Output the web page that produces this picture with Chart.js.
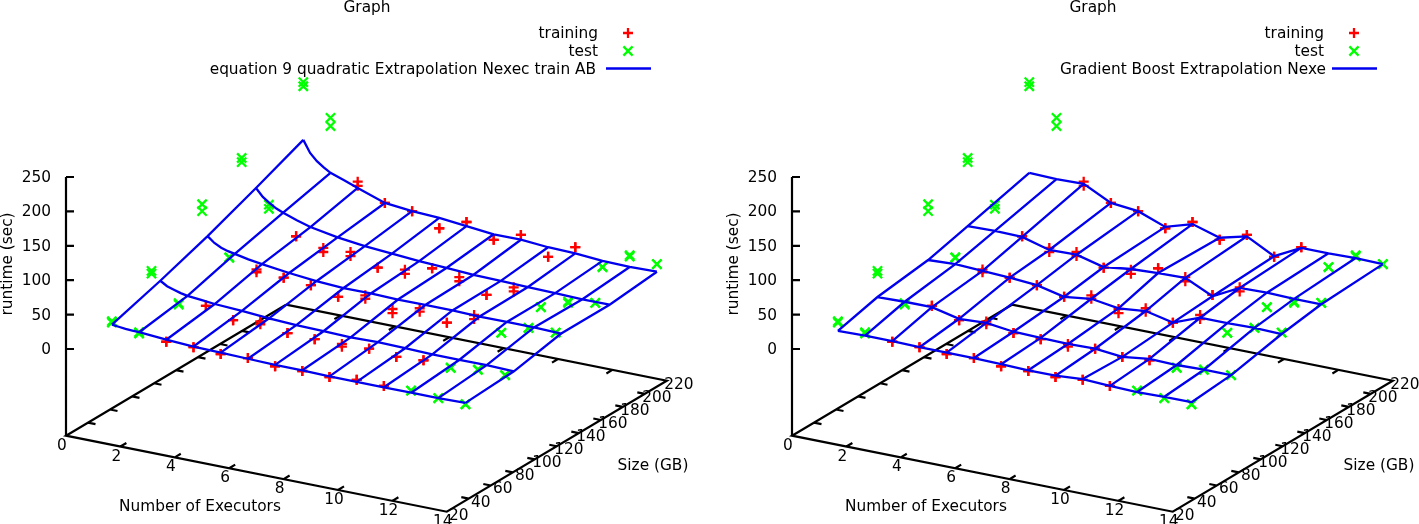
<!DOCTYPE html>
<html>
<head>
<meta charset="utf-8">
<title>Graph</title>
<style>
  html, body { margin: 0; padding: 0; background: #fff; overflow: hidden; }
  canvas { position: absolute; top: 0; }
</style>
<script src="https://cdn.jsdelivr.net/npm/chart.js@4/dist/chart.umd.min.js"></script>
</head>
<body>
<canvas id="left" width="726" height="524" style="left:0"></canvas>
<canvas id="right" width="693" height="524" style="left:726px"></canvas>
<script>
// measured configurations
const executors = [1, 2, 3, 4, 5, 6, 7, 8, 9, 10, 11, 12, 13, 14];
const sizes = [37, 73, 119, 155, 211];
const trainExecutors = [3, 4, 5, 6, 7, 8, 9, 10, 11];
const testExecutors = [1, 2, 12, 13, 14];

// runtime (sec), one row per size, two runs per configuration
const runtimeRun1 = [
  [32, 24, 18, 18, 16, 18, 14, 15, 14, 18, 17, 18, 15, 14],
  [71, 32, 36, 23, 29, 20, 19, 20, 21, 17, 20, 17, 22, 22],
  [124, 55, 45, 41, 38, 29, 39, 27, 36, 23, 42, 24, 39, 40],
  [157, 97, 59, 50, 52, 37, 42, 52, 47, 29, 48, 27, 43, 49],
  [214, 170, 85, 62, 58, 41, 58, 40, 55, 31, 53, 32, 57, 52]
];
const runtimeRun2 = [
  [30, 22, 18, 18, 16, 18, 14, 15, 14, 18, 17, 18, 15, 14],
  [67, 30, 36, 23, 25, 20, 19, 16, 21, 17, 20, 17, 22, 22],
  [114, 54, 41, 41, 38, 29, 34, 21, 31, 23, 36, 24, 39, 40],
  [151, 91, 59, 44, 46, 37, 36, 52, 41, 29, 42, 27, 41, 49],
  [208, 158, 79, 62, 58, 41, 58, 40, 55, 31, 53, 32, 55, 52]
];

// fitted surfaces, the quadratic one read a bit finer where it bends
const quadExecutors = [1, 1.25, 1.5, 1.75, 2, 2.5, 3, 4, 5, 6, 7, 8, 9, 10, 11, 12, 13, 14];
const quadSizes = [37, 81, 124, 168, 211];
const quadSurface = [
  [27, 26, 25, 24.5, 24, 22.5, 21, 19, 18, 17, 16, 16, 15, 15, 15, 15, 15, 16],
  [49, 43, 40, 37, 35, 33, 31, 29, 26, 24, 23, 22, 23, 22, 21, 21, 21, 20],
  [73, 65, 60, 57, 55, 51, 48, 43, 39, 37, 37, 36, 36, 36, 35, 35, 35, 34],
  [101, 90, 83, 77, 73, 66, 60, 53, 48, 45, 42, 40, 38, 37, 36, 35, 34, 34],
  [130, 113, 103, 96, 90, 83, 76, 62, 58, 56, 52, 48, 48, 45, 44, 41, 40, 41]
];
const boostSizes = sizes;
const boostSurface = [
  [18, 19, 19, 18, 18, 18, 17, 16, 16, 19, 17, 16, 17, 17],
  [33, 34, 34, 25, 27, 22, 21, 20, 21, 17, 22, 21, 22, 22],
  [43, 45, 43, 41, 38, 29, 34, 28, 32, 23, 38, 38, 39, 38],
  [58, 59, 58, 47, 48, 38, 43, 45, 46, 27, 47, 48, 47, 47],
  [82, 81, 82, 62, 58, 43, 55, 43, 53, 32, 52, 52, 53, 52]
];

// axis ticks
const executorTicks = [0, 2, 4, 6, 8, 10, 12, 14];
const sizeTicks = [20, 40, 60, 80, 100, 120, 140, 160, 180, 200, 220];
const runtimeTicks = [0, 50, 100, 150, 200, 250];

const FONT = '15.35px "DejaVu Sans"';

// gnuplot style view: data space -> panel pixels
function project(e, s, z) {
  return {
    x: 66 + e * 27.2 + (s - 20) * 1.1,
    y: 349 + e * 5.43 - (s - 20) * 0.655 - z * 0.688
  };
}

function markers(execs, rows) {
  const pts = [];
  rows.forEach((row, r) => {
    execs.forEach(e => pts.push(project(e, sizes[r], row[executors.indexOf(e)])));
  });
  return pts;
}

// polyline list -> one dataset with gaps between the lines
function withGaps(lines) {
  const pts = [];
  lines.forEach(line => { pts.push(...line); pts.push({ x: null, y: null }); });
  return pts;
}

function surfaceLines(rowExecs, rowSizes, surface) {
  const lines = surface.map((row, r) => row.map((z, i) => project(rowExecs[i], rowSizes[r], z)));
  executors.forEach(e => {
    const i = rowExecs.indexOf(e);
    lines.push(surface.map((row, r) => project(e, rowSizes[r], row[i])));
  });
  return lines;
}

function axisLines() {
  const zLow = -126;
  const a = project(0, 20, zLow), b = project(14, 20, zLow);
  const c = project(14, 220, zLow), d = project(0, 220, zLow);
  const lines = [[d, a, b, c, d], [a, project(0, 20, 250)]];
  const seg = (p, dx, dy) => lines.push([p, { x: p.x + dx, y: p.y + dy }]);
  executorTicks.slice(1, -1).forEach(e => {
    seg(project(e, 20, zLow), 6, -3.6);
    seg(project(e, 220, zLow), -6, 3.6);
  });
  sizeTicks.slice(1, -1).forEach(s => {
    seg(project(0, s, zLow), 7.5, 1.5);
    seg(project(14, s, zLow), -7.5, -1.5);
  });
  runtimeTicks.forEach(z => seg(project(0, 20, z), 8, 0));
  return lines;
}

const textPlugin = {
  id: 'gnuplotText',
  afterDraw(chart, args, opts) {
    const ctx = chart.ctx;
    const sx = chart.scales.x, sy = chart.scales.y;
    const put = (str, x, y, align) => {
      ctx.textAlign = align || 'center';
      ctx.fillText(str, sx.getPixelForValue(x), sy.getPixelForValue(y) + 1);
    };
    ctx.save();
    ctx.font = FONT;
    ctx.fillStyle = '#000';
    ctx.textBaseline = 'middle';
    put('Graph', 367, 7);
    put('training', 598, 33, 'right');
    put('test', 598, 51, 'right');
    put(opts.fitName, opts.fitRight, 69, 'right');
    put('Number of Executors', 200, 506);
    put('Size (GB)', 653, 465);
    executorTicks.forEach(e => {
      const p = project(e, 20, -126);
      put(String(e), p.x - 4, p.y + 9);
    });
    sizeTicks.forEach(s => {
      const p = project(14, s, -126);
      put(String(s), p.x + 12, p.y + 3);
    });
    runtimeTicks.forEach(z => put(String(z), 51, project(0, 20, z).y, 'right'));
    ctx.save();
    ctx.translate(sx.getPixelForValue(8), sy.getPixelForValue(264));
    ctx.rotate(-Math.PI / 2);
    ctx.textAlign = 'center';
    ctx.fillText('runtime (sec)', 0, 0);
    ctx.restore();
    ctx.restore();
  }
};

function drawPanel(id, fitName, fitRight, lines, panelWidth) {
  const pointSet = (label, data, style, color, radius, order) => ({
    label, data, order,
    pointStyle: style,
    pointRadius: radius,
    pointBorderColor: color,
    pointBackgroundColor: color,
    pointBorderWidth: 2.3,
    showLine: false,
    clip: false
  });
  const train = [...markers(trainExecutors, runtimeRun1), ...markers(trainExecutors, runtimeRun2)];
  const test = [...markers(testExecutors, runtimeRun1), ...markers(testExecutors, runtimeRun2)];
  new Chart(document.getElementById(id), {
    type: 'scatter',
    data: {
      datasets: [
        {
          label: 'axes', data: withGaps(axisLines()), order: 5, showLine: true, pointRadius: 0,
          borderColor: '#000', borderWidth: 2.2, spanGaps: false, clip: false
        },
        pointSet('training', train, 'cross', '#ff0000', 5, 4),
        pointSet('test', test, 'crossRot', '#00ff00', 6.5, 3),
        {
          label: fitName, data: withGaps(lines), order: 2, showLine: true, pointRadius: 0,
          borderColor: '#0000ee', borderWidth: 2.3, spanGaps: false, clip: false
        },
        pointSet('training key', [{ x: 628, y: 33 }], 'cross', '#ff0000', 5, 1),
        pointSet('test key', [{ x: 628, y: 51 }], 'crossRot', '#00ff00', 6.5, 1),
        {
          label: 'fit key', data: [{ x: 606, y: 68.5 }, { x: 651, y: 68.5 }], order: 1, showLine: true,
          pointRadius: 0, borderColor: '#0000ee', borderWidth: 2.3, clip: false
        }
      ]
    },
    options: {
      responsive: false,
      animation: false,
      layout: { padding: 0, autoPadding: false },
      scales: {
        x: { type: 'linear', min: 0, max: panelWidth, display: false },
        y: { type: 'linear', min: 0, max: 524, reverse: true, display: false }
      },
      plugins: {
        legend: { display: false },
        tooltip: { enabled: false },
        gnuplotText: { fitName, fitRight }
      }
    },
    plugins: [textPlugin]
  });
}

drawPanel('left', 'equation 9 quadratic Extrapolation Nexec train AB', 596, surfaceLines(quadExecutors, quadSizes, quadSurface), 726);
drawPanel('right', 'Gradient Boost Extrapolation Nexe', 600, surfaceLines(executors, boostSizes, boostSurface), 693);
</script>
</body>
</html>
